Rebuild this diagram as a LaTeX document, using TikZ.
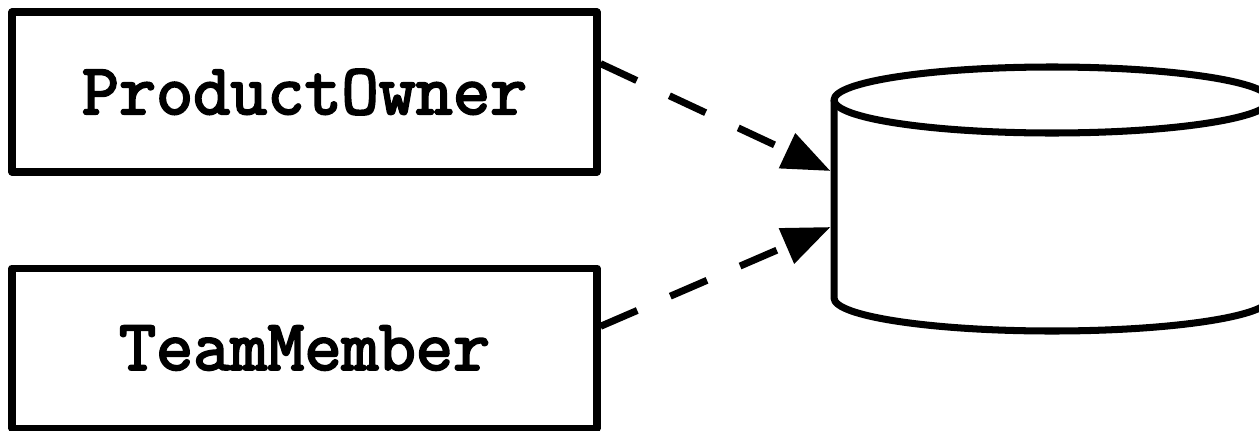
\documentclass[tikz,border=0pt]{standalone}
\usepackage{fontspec}
\newfontfamily\rolefont[FakeBold=3]{Latin Modern Mono}
\usetikzlibrary{arrows.meta,positioning,calc}
\tikzset{
  role/.style={rectangle, draw=black, line width=2pt, line join=round, fill=white,
    minimum width=5.85cm, minimum height=1.6cm, inner sep=0pt,
    font=\fontsize{20.5}{24}\selectfont\rolefont},
  storebody/.style={rectangle, minimum width=4.36cm, minimum height=1.98cm,
    inner sep=0pt, outer sep=0pt},
  storeline/.style={draw=black, line width=2pt, line join=round},
  uses/.style={-{Triangle[length=4.8mm, width=3.7mm]}, line width=2pt,
    dash pattern=on 4mm off 3.6mm},
}

\begin{document}
\begin{tikzpicture}
  \useasboundingbox (0,0) rectangle (12.59,-4.30);
  \node[role] (po) at (3.045,-0.92) {ProductOwner};
  \node[role, below=0.89cm of po] (tm) {TeamMember};
  % data store: side walls plus lid
  \node[storebody] (db) at (10.52,-1.99) {};
  \draw[storeline] (db.north west) -- (db.south west)
    arc[start angle=180, end angle=360, x radius=2.18cm, y radius=0.33cm]
    -- (db.north east);
  \draw[storeline] (db.north) ellipse[x radius=2.18cm, y radius=0.33cm];
  % both roles write into the store
  \draw[uses] ($(po.north east)!0.33!(po.south east)$) -- ([shift={(-1pt,2.8mm)}]db.west);
  \draw[uses] ($(tm.north east)!0.37!(tm.south east)$) -- ([shift={(-1pt,-2.8mm)}]db.west);
\end{tikzpicture}
\end{document}
